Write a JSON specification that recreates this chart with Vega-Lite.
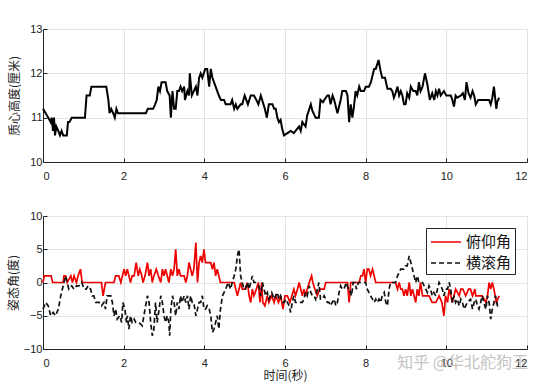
{
  "$schema": "https://vega.github.io/schema/vega-lite/v6.json",
  "padding": {"left": 6, "top": 22, "right": 10, "bottom": 5},
  "background": "white",
  "spacing": 27,
  "title": {"text": "知乎 @华北舵狗王", "orient": "bottom", "anchor": "end", "color": "#c4c4c4", "fontSize": 16, "font": "Noto Sans CJK SC", "fontWeight": "normal", "offset": -27},
  "resolve": {"legend": {"color": "independent", "strokeDash": "independent"}},
  "config": {
    "view": {"stroke": "#d4d4d4", "strokeWidth": 1},
    "axis": {
      "grid": true, "gridColor": "#e3e3e3", "gridWidth": 1,
      "domainColor": "#222222", "domainWidth": 1,
      "tickColor": "#222222", "tickSize": -4,
      "labelFont": "Liberation Sans", "labelFontSize": 11, "labelColor": "#222222", "labelPadding": 5,
      "titleFont": "Noto Sans CJK SC", "titleFontSize": 12, "titleFontWeight": "normal", "titleColor": "#222222"
    },
    "axisX": {"labelPadding": 12},
    "legend": {
      "orient": "top-right", "offset": 12, "fillColor": "white", "strokeColor": "#222222",
      "padding": 3, "labelFont": "Noto Sans CJK SC", "labelFontSize": 15, "labelColor": "#111111",
      "symbolType": "M-1.5,0H1.5", "symbolSize": 400, "symbolStrokeWidth": 1.6, "rowPadding": 2,
      "symbolOffset": 6, "labelOffset": 9
    }
  },
  "datasets": {
    "height": [
      {"time":0,"value":11.2},{"time":0.066,"value":11.1},{"time":0.132,"value":11.0},{"time":0.19,"value":10.9},{"time":0.215,"value":11.0},{"time":0.248,"value":10.7},{"time":0.273,"value":11.0},{"time":0.298,"value":10.6},{"time":0.33,"value":10.8},{"time":0.38,"value":10.7},{"time":0.42,"value":10.6},{"time":0.46,"value":10.7},{"time":0.5,"value":10.6},{"time":0.59,"value":10.6},{"time":0.62,"value":10.9},{"time":0.66,"value":10.9},{"time":0.71,"value":11.0},{"time":1.04,"value":11.0},{"time":1.08,"value":11.5},{"time":1.16,"value":11.5},{"time":1.2,"value":11.7},{"time":1.57,"value":11.7},{"time":1.62,"value":11.4},{"time":1.65,"value":11.1},{"time":1.69,"value":11.2},{"time":1.74,"value":11.1},{"time":1.78,"value":11.0},{"time":1.82,"value":11.2},{"time":1.86,"value":11.1},{"time":2.55,"value":11.1},{"time":2.6,"value":11.2},{"time":2.73,"value":11.2},{"time":2.78,"value":11.3},{"time":2.82,"value":11.4},{"time":2.86,"value":11.7},{"time":2.9,"value":11.6},{"time":2.94,"value":11.8},{"time":3.04,"value":11.8},{"time":3.08,"value":11.6},{"time":3.14,"value":11.5},{"time":3.17,"value":11.0},{"time":3.21,"value":11.6},{"time":3.25,"value":11.2},{"time":3.29,"value":11.2},{"time":3.33,"value":11.6},{"time":3.37,"value":11.6},{"time":3.41,"value":11.7},{"time":3.45,"value":11.6},{"time":3.5,"value":11.7},{"time":3.52,"value":11.4},{"time":3.58,"value":11.6},{"time":3.62,"value":11.5},{"time":3.64,"value":12.0},{"time":3.69,"value":11.5},{"time":3.74,"value":11.6},{"time":3.79,"value":11.7},{"time":3.83,"value":11.5},{"time":3.87,"value":11.9},{"time":3.91,"value":12.0},{"time":3.95,"value":11.9},{"time":4.02,"value":12.1},{"time":4.07,"value":12.1},{"time":4.12,"value":11.7},{"time":4.16,"value":12.1},{"time":4.2,"value":11.9},{"time":4.28,"value":11.7},{"time":4.36,"value":11.5},{"time":4.41,"value":11.4},{"time":4.49,"value":11.4},{"time":4.53,"value":11.3},{"time":4.65,"value":11.3},{"time":4.69,"value":11.4},{"time":4.74,"value":11.2},{"time":4.78,"value":11.3},{"time":4.82,"value":11.2},{"time":4.9,"value":11.3},{"time":4.94,"value":11.3},{"time":5.0,"value":11.5},{"time":5.04,"value":11.4},{"time":5.08,"value":11.3},{"time":5.15,"value":11.5},{"time":5.23,"value":11.5},{"time":5.29,"value":11.4},{"time":5.34,"value":11.3},{"time":5.4,"value":11.5},{"time":5.45,"value":11.35},{"time":5.5,"value":11.2},{"time":5.55,"value":11.0},{"time":5.6,"value":11.3},{"time":5.69,"value":11.3},{"time":5.73,"value":11.2},{"time":5.77,"value":11.2},{"time":5.81,"value":11.0},{"time":5.85,"value":10.9},{"time":5.89,"value":10.95},{"time":5.93,"value":10.75},{"time":5.975,"value":10.6},{"time":6.06,"value":10.65},{"time":6.14,"value":10.7},{"time":6.22,"value":10.65},{"time":6.26,"value":10.7},{"time":6.35,"value":10.8},{"time":6.39,"value":10.7},{"time":6.43,"value":10.9},{"time":6.51,"value":10.8},{"time":6.55,"value":11.05},{"time":6.64,"value":11.3},{"time":6.68,"value":11.15},{"time":6.76,"value":11.0},{"time":6.84,"value":11.0},{"time":6.88,"value":11.4},{"time":6.94,"value":11.35},{"time":7.01,"value":11.45},{"time":7.05,"value":11.5},{"time":7.09,"value":11.5},{"time":7.13,"value":11.3},{"time":7.18,"value":11.5},{"time":7.22,"value":11.4},{"time":7.3,"value":11.1},{"time":7.38,"value":11.4},{"time":7.42,"value":11.6},{"time":7.51,"value":11.6},{"time":7.55,"value":11.5},{"time":7.59,"value":10.9},{"time":7.63,"value":11.3},{"time":7.67,"value":11.0},{"time":7.71,"value":11.25},{"time":7.75,"value":11.6},{"time":7.79,"value":11.5},{"time":7.84,"value":11.7},{"time":7.88,"value":11.6},{"time":7.96,"value":11.6},{"time":8.0,"value":11.7},{"time":8.08,"value":11.7},{"time":8.13,"value":11.8},{"time":8.21,"value":12.1},{"time":8.25,"value":12.1},{"time":8.32,"value":12.3},{"time":8.37,"value":12.05},{"time":8.41,"value":11.9},{"time":8.48,"value":11.9},{"time":8.54,"value":11.65},{"time":8.62,"value":11.65},{"time":8.66,"value":11.6},{"time":8.7,"value":11.45},{"time":8.74,"value":11.55},{"time":8.79,"value":11.7},{"time":8.83,"value":11.5},{"time":8.87,"value":11.6},{"time":8.91,"value":11.5},{"time":8.95,"value":11.3},{"time":8.99,"value":11.3},{"time":9.03,"value":11.55},{"time":9.08,"value":11.45},{"time":9.12,"value":11.7},{"time":9.18,"value":11.6},{"time":9.24,"value":11.6},{"time":9.28,"value":11.5},{"time":9.32,"value":11.8},{"time":9.36,"value":11.6},{"time":9.41,"value":11.7},{"time":9.47,"value":12.0},{"time":9.53,"value":11.75},{"time":9.59,"value":11.4},{"time":9.65,"value":11.55},{"time":9.7,"value":11.4},{"time":9.74,"value":11.6},{"time":9.78,"value":11.5},{"time":9.82,"value":11.65},{"time":9.86,"value":11.5},{"time":9.94,"value":11.6},{"time":10.0,"value":11.5},{"time":10.11,"value":11.5},{"time":10.15,"value":11.4},{"time":10.19,"value":11.25},{"time":10.23,"value":11.5},{"time":10.27,"value":11.45},{"time":10.36,"value":11.5},{"time":10.41,"value":11.55},{"time":10.46,"value":11.4},{"time":10.5,"value":11.8},{"time":10.55,"value":11.55},{"time":10.6,"value":11.45},{"time":10.65,"value":11.6},{"time":10.69,"value":11.5},{"time":10.73,"value":11.3},{"time":10.79,"value":11.4},{"time":11.06,"value":11.4},{"time":11.1,"value":11.3},{"time":11.14,"value":11.45},{"time":11.18,"value":11.7},{"time":11.24,"value":11.2},{"time":11.26,"value":11.35},{"time":11.31,"value":11.45}
    ],
    "attitude": [
      {"time":0,"value":0,"series":"俯仰角"},{"time":0.03,"value":1,"series":"俯仰角"},{"time":0.2,"value":1,"series":"俯仰角"},{"time":0.24,"value":0,"series":"俯仰角"},{"time":0.5,"value":0,"series":"俯仰角"},{"time":0.52,"value":1,"series":"俯仰角"},{"time":0.56,"value":1,"series":"俯仰角"},{"time":0.6,"value":0,"series":"俯仰角"},{"time":0.69,"value":1,"series":"俯仰角"},{"time":0.73,"value":0,"series":"俯仰角"},{"time":0.77,"value":1,"series":"俯仰角"},{"time":0.83,"value":0,"series":"俯仰角"},{"time":0.87,"value":1,"series":"俯仰角"},{"time":0.93,"value":2,"series":"俯仰角"},{"time":0.97,"value":0,"series":"俯仰角"},{"time":1.45,"value":0,"series":"俯仰角"},{"time":1.49,"value":-2,"series":"俯仰角"},{"time":1.55,"value":0,"series":"俯仰角"},{"time":1.76,"value":0,"series":"俯仰角"},{"time":1.8,"value":1,"series":"俯仰角"},{"time":1.88,"value":1,"series":"俯仰角"},{"time":1.93,"value":0,"series":"俯仰角"},{"time":1.97,"value":1,"series":"俯仰角"},{"time":2.01,"value":2,"series":"俯仰角"},{"time":2.05,"value":1,"series":"俯仰角"},{"time":2.09,"value":2,"series":"俯仰角"},{"time":2.13,"value":1,"series":"俯仰角"},{"time":2.17,"value":0,"series":"俯仰角"},{"time":2.21,"value":1,"series":"俯仰角"},{"time":2.26,"value":1,"series":"俯仰角"},{"time":2.31,"value":3,"series":"俯仰角"},{"time":2.36,"value":1,"series":"俯仰角"},{"time":2.4,"value":2,"series":"俯仰角"},{"time":2.45,"value":1,"series":"俯仰角"},{"time":2.48,"value":0,"series":"俯仰角"},{"time":2.53,"value":1,"series":"俯仰角"},{"time":2.59,"value":3,"series":"俯仰角"},{"time":2.63,"value":1,"series":"俯仰角"},{"time":2.67,"value":2,"series":"俯仰角"},{"time":2.71,"value":0,"series":"俯仰角"},{"time":2.75,"value":1,"series":"俯仰角"},{"time":2.81,"value":2,"series":"俯仰角"},{"time":2.86,"value":1,"series":"俯仰角"},{"time":2.92,"value":0,"series":"俯仰角"},{"time":2.96,"value":2,"series":"俯仰角"},{"time":3.0,"value":1,"series":"俯仰角"},{"time":3.04,"value":2,"series":"俯仰角"},{"time":3.08,"value":1,"series":"俯仰角"},{"time":3.12,"value":0,"series":"俯仰角"},{"time":3.17,"value":2,"series":"俯仰角"},{"time":3.21,"value":1,"series":"俯仰角"},{"time":3.25,"value":2,"series":"俯仰角"},{"time":3.29,"value":5,"series":"俯仰角"},{"time":3.33,"value":1,"series":"俯仰角"},{"time":3.37,"value":2,"series":"俯仰角"},{"time":3.41,"value":1,"series":"俯仰角"},{"time":3.5,"value":1,"series":"俯仰角"},{"time":3.54,"value":0,"series":"俯仰角"},{"time":3.58,"value":1,"series":"俯仰角"},{"time":3.62,"value":3,"series":"俯仰角"},{"time":3.66,"value":2,"series":"俯仰角"},{"time":3.7,"value":1,"series":"俯仰角"},{"time":3.74,"value":2,"series":"俯仰角"},{"time":3.79,"value":6,"series":"俯仰角"},{"time":3.83,"value":0,"series":"俯仰角"},{"time":3.87,"value":3,"series":"俯仰角"},{"time":3.91,"value":4,"series":"俯仰角"},{"time":3.95,"value":3,"series":"俯仰角"},{"time":3.99,"value":5,"series":"俯仰角"},{"time":4.03,"value":3,"series":"俯仰角"},{"time":4.12,"value":3,"series":"俯仰角"},{"time":4.16,"value":3,"series":"俯仰角"},{"time":4.2,"value":2,"series":"俯仰角"},{"time":4.24,"value":3,"series":"俯仰角"},{"time":4.28,"value":1,"series":"俯仰角"},{"time":4.32,"value":2,"series":"俯仰角"},{"time":4.36,"value":1,"series":"俯仰角"},{"time":4.4,"value":0,"series":"俯仰角"},{"time":4.74,"value":0,"series":"俯仰角"},{"time":4.82,"value":-2,"series":"俯仰角"},{"time":4.86,"value":-1,"series":"俯仰角"},{"time":4.9,"value":0,"series":"俯仰角"},{"time":4.94,"value":-1,"series":"俯仰角"},{"time":5.01,"value":-1,"series":"俯仰角"},{"time":5.07,"value":0,"series":"俯仰角"},{"time":5.11,"value":-2,"series":"俯仰角"},{"time":5.15,"value":-3,"series":"俯仰角"},{"time":5.19,"value":-1,"series":"俯仰角"},{"time":5.23,"value":-2,"series":"俯仰角"},{"time":5.29,"value":-1,"series":"俯仰角"},{"time":5.34,"value":0,"series":"俯仰角"},{"time":5.38,"value":-3,"series":"俯仰角"},{"time":5.42,"value":0,"series":"俯仰角"},{"time":5.45,"value":-3,"series":"俯仰角"},{"time":5.5,"value":-3.5,"series":"俯仰角"},{"time":5.56,"value":-2,"series":"俯仰角"},{"time":5.6,"value":-3,"series":"俯仰角"},{"time":5.67,"value":-2,"series":"俯仰角"},{"time":5.73,"value":-3,"series":"俯仰角"},{"time":5.77,"value":-2,"series":"俯仰角"},{"time":5.84,"value":-3,"series":"俯仰角"},{"time":5.89,"value":-2,"series":"俯仰角"},{"time":5.95,"value":-4,"series":"俯仰角"},{"time":6.0,"value":-2,"series":"俯仰角"},{"time":6.06,"value":-2,"series":"俯仰角"},{"time":6.12,"value":-3,"series":"俯仰角"},{"time":6.17,"value":-2,"series":"俯仰角"},{"time":6.22,"value":-1,"series":"俯仰角"},{"time":6.26,"value":-2,"series":"俯仰角"},{"time":6.31,"value":-1,"series":"俯仰角"},{"time":6.35,"value":0,"series":"俯仰角"},{"time":6.39,"value":-1,"series":"俯仰角"},{"time":6.43,"value":-2,"series":"俯仰角"},{"time":6.47,"value":-1,"series":"俯仰角"},{"time":6.51,"value":-2,"series":"俯仰角"},{"time":6.55,"value":-1,"series":"俯仰角"},{"time":6.6,"value":0,"series":"俯仰角"},{"time":6.66,"value":1,"series":"俯仰角"},{"time":6.69,"value":0,"series":"俯仰角"},{"time":6.74,"value":-1,"series":"俯仰角"},{"time":6.8,"value":-2,"series":"俯仰角"},{"time":6.86,"value":-1,"series":"俯仰角"},{"time":6.97,"value":-1,"series":"俯仰角"},{"time":7.01,"value":0,"series":"俯仰角"},{"time":7.55,"value":0,"series":"俯仰角"},{"time":7.59,"value":-3,"series":"俯仰角"},{"time":7.63,"value":0,"series":"俯仰角"},{"time":7.84,"value":0,"series":"俯仰角"},{"time":7.88,"value":1,"series":"俯仰角"},{"time":7.92,"value":1,"series":"俯仰角"},{"time":7.96,"value":2,"series":"俯仰角"},{"time":8.0,"value":0,"series":"俯仰角"},{"time":8.04,"value":2,"series":"俯仰角"},{"time":8.08,"value":2,"series":"俯仰角"},{"time":8.12,"value":1,"series":"俯仰角"},{"time":8.17,"value":2,"series":"俯仰角"},{"time":8.21,"value":1,"series":"俯仰角"},{"time":8.25,"value":0,"series":"俯仰角"},{"time":8.74,"value":0,"series":"俯仰角"},{"time":8.79,"value":-1,"series":"俯仰角"},{"time":8.83,"value":0,"series":"俯仰角"},{"time":8.87,"value":-1,"series":"俯仰角"},{"time":8.91,"value":-1,"series":"俯仰角"},{"time":8.95,"value":-2,"series":"俯仰角"},{"time":8.99,"value":-1,"series":"俯仰角"},{"time":9.03,"value":-2,"series":"俯仰角"},{"time":9.08,"value":0,"series":"俯仰角"},{"time":9.12,"value":-2,"series":"俯仰角"},{"time":9.16,"value":-1,"series":"俯仰角"},{"time":9.2,"value":-2,"series":"俯仰角"},{"time":9.24,"value":-3,"series":"俯仰角"},{"time":9.28,"value":-1,"series":"俯仰角"},{"time":9.32,"value":-2,"series":"俯仰角"},{"time":9.36,"value":0,"series":"俯仰角"},{"time":9.41,"value":-2,"series":"俯仰角"},{"time":9.57,"value":-2,"series":"俯仰角"},{"time":9.65,"value":-3,"series":"俯仰角"},{"time":9.74,"value":-3,"series":"俯仰角"},{"time":9.82,"value":-2,"series":"俯仰角"},{"time":9.89,"value":-3,"series":"俯仰角"},{"time":9.94,"value":-5,"series":"俯仰角"},{"time":9.98,"value":-2,"series":"俯仰角"},{"time":10.03,"value":-3,"series":"俯仰角"},{"time":10.07,"value":-1,"series":"俯仰角"},{"time":10.11,"value":-2,"series":"俯仰角"},{"time":10.15,"value":-3,"series":"俯仰角"},{"time":10.19,"value":-2,"series":"俯仰角"},{"time":10.23,"value":-1,"series":"俯仰角"},{"time":10.32,"value":-2,"series":"俯仰角"},{"time":10.36,"value":-1,"series":"俯仰角"},{"time":10.41,"value":-1,"series":"俯仰角"},{"time":10.48,"value":-2,"series":"俯仰角"},{"time":10.55,"value":-1,"series":"俯仰角"},{"time":10.6,"value":-1,"series":"俯仰角"},{"time":10.65,"value":-2,"series":"俯仰角"},{"time":10.71,"value":-1,"series":"俯仰角"},{"time":10.73,"value":-2,"series":"俯仰角"},{"time":10.89,"value":-2,"series":"俯仰角"},{"time":10.98,"value":-3,"series":"俯仰角"},{"time":11.02,"value":-2,"series":"俯仰角"},{"time":11.06,"value":0,"series":"俯仰角"},{"time":11.1,"value":-1,"series":"俯仰角"},{"time":11.14,"value":0,"series":"俯仰角"},{"time":11.18,"value":-1,"series":"俯仰角"},{"time":11.24,"value":-3,"series":"俯仰角"},{"time":11.31,"value":-2,"series":"俯仰角"},
      {"time":0,"value":-4,"series":"横滚角"},{"time":0.066,"value":-3,"series":"横滚角"},{"time":0.13,"value":-3.5,"series":"横滚角"},{"time":0.19,"value":-5,"series":"横滚角"},{"time":0.25,"value":-4.5,"series":"横滚角"},{"time":0.31,"value":-5,"series":"横滚角"},{"time":0.38,"value":-4,"series":"横滚角"},{"time":0.44,"value":-2,"series":"横滚角"},{"time":0.52,"value":0,"series":"横滚角"},{"time":0.56,"value":1,"series":"横滚角"},{"time":0.6,"value":0,"series":"横滚角"},{"time":0.64,"value":-1,"series":"横滚角"},{"time":0.71,"value":-0.5,"series":"横滚角"},{"time":0.77,"value":-1,"series":"横滚角"},{"time":0.83,"value":-0.5,"series":"横滚角"},{"time":0.89,"value":-0.5,"series":"横滚角"},{"time":0.96,"value":0,"series":"横滚角"},{"time":1.02,"value":-1,"series":"横滚角"},{"time":1.07,"value":-1,"series":"横滚角"},{"time":1.12,"value":-0.5,"series":"横滚角"},{"time":1.18,"value":-1,"series":"横滚角"},{"time":1.22,"value":-2,"series":"横滚角"},{"time":1.26,"value":-2,"series":"横滚角"},{"time":1.31,"value":-3,"series":"横滚角"},{"time":1.39,"value":-3,"series":"横滚角"},{"time":1.45,"value":-3.5,"series":"横滚角"},{"time":1.51,"value":-3,"series":"横滚角"},{"time":1.55,"value":-4,"series":"横滚角"},{"time":1.59,"value":-2,"series":"横滚角"},{"time":1.68,"value":-2,"series":"横滚角"},{"time":1.72,"value":-3,"series":"横滚角"},{"time":1.76,"value":-5,"series":"横滚角"},{"time":1.8,"value":-4,"series":"横滚角"},{"time":1.84,"value":-5.5,"series":"横滚角"},{"time":1.9,"value":-5,"series":"横滚角"},{"time":1.95,"value":-6,"series":"横滚角"},{"time":1.98,"value":-3,"series":"横滚角"},{"time":2.03,"value":-4,"series":"横滚角"},{"time":2.07,"value":-6,"series":"横滚角"},{"time":2.09,"value":-5,"series":"横滚角"},{"time":2.13,"value":-7,"series":"横滚角"},{"time":2.17,"value":-5,"series":"横滚角"},{"time":2.21,"value":-6,"series":"横滚角"},{"time":2.26,"value":-5.5,"series":"横滚角"},{"time":2.3,"value":-6,"series":"横滚角"},{"time":2.38,"value":-6,"series":"横滚角"},{"time":2.46,"value":-6.5,"series":"横滚角"},{"time":2.53,"value":-4,"series":"横滚角"},{"time":2.59,"value":-2,"series":"横滚角"},{"time":2.63,"value":-3,"series":"横滚角"},{"time":2.67,"value":-6,"series":"横滚角"},{"time":2.71,"value":-8,"series":"横滚角"},{"time":2.75,"value":-7,"series":"横滚角"},{"time":2.79,"value":-3,"series":"横滚角"},{"time":2.83,"value":-6,"series":"横滚角"},{"time":2.88,"value":-4,"series":"横滚角"},{"time":2.92,"value":-2,"series":"横滚角"},{"time":2.96,"value":-3,"series":"横滚角"},{"time":3.0,"value":-5,"series":"横滚角"},{"time":3.04,"value":-6,"series":"横滚角"},{"time":3.08,"value":-5,"series":"横滚角"},{"time":3.12,"value":-6,"series":"横滚角"},{"time":3.14,"value":-8,"series":"横滚角"},{"time":3.17,"value":-4,"series":"横滚角"},{"time":3.21,"value":-2,"series":"横滚角"},{"time":3.25,"value":-3,"series":"横滚角"},{"time":3.29,"value":-5,"series":"横滚角"},{"time":3.33,"value":-3,"series":"横滚角"},{"time":3.37,"value":-4,"series":"横滚角"},{"time":3.41,"value":-2,"series":"横滚角"},{"time":3.44,"value":-3,"series":"横滚角"},{"time":3.5,"value":-2,"series":"横滚角"},{"time":3.54,"value":-3,"series":"横滚角"},{"time":3.58,"value":-2,"series":"横滚角"},{"time":3.62,"value":-4,"series":"横滚角"},{"time":3.66,"value":-2,"series":"横滚角"},{"time":3.7,"value":-3,"series":"横滚角"},{"time":3.74,"value":-3,"series":"横滚角"},{"time":3.79,"value":-5,"series":"横滚角"},{"time":3.83,"value":-4,"series":"横滚角"},{"time":3.87,"value":-3,"series":"横滚角"},{"time":3.91,"value":-3,"series":"横滚角"},{"time":3.95,"value":-2,"series":"横滚角"},{"time":3.99,"value":-4,"series":"横滚角"},{"time":4.03,"value":-4,"series":"横滚角"},{"time":4.07,"value":-3.5,"series":"横滚角"},{"time":4.12,"value":-4,"series":"横滚角"},{"time":4.16,"value":-5,"series":"横滚角"},{"time":4.2,"value":-7.5,"series":"横滚角"},{"time":4.24,"value":-7,"series":"横滚角"},{"time":4.28,"value":-6,"series":"横滚角"},{"time":4.32,"value":-5,"series":"横滚角"},{"time":4.36,"value":-7,"series":"横滚角"},{"time":4.4,"value":-4,"series":"横滚角"},{"time":4.45,"value":-2,"series":"横滚角"},{"time":4.53,"value":-1,"series":"横滚角"},{"time":4.59,"value":0,"series":"横滚角"},{"time":4.65,"value":-1,"series":"横滚角"},{"time":4.69,"value":0,"series":"横滚角"},{"time":4.74,"value":1,"series":"横滚角"},{"time":4.78,"value":2,"series":"横滚角"},{"time":4.82,"value":4,"series":"横滚角"},{"time":4.86,"value":5,"series":"横滚角"},{"time":4.9,"value":1,"series":"横滚角"},{"time":4.94,"value":0,"series":"横滚角"},{"time":4.98,"value":-1,"series":"横滚角"},{"time":5.02,"value":-1,"series":"横滚角"},{"time":5.07,"value":0,"series":"横滚角"},{"time":5.11,"value":-1,"series":"横滚角"},{"time":5.15,"value":0,"series":"横滚角"},{"time":5.19,"value":1,"series":"横滚角"},{"time":5.23,"value":0,"series":"横滚角"},{"time":5.27,"value":0,"series":"横滚角"},{"time":5.35,"value":-0.5,"series":"横滚角"},{"time":5.4,"value":-2,"series":"横滚角"},{"time":5.44,"value":0,"series":"横滚角"},{"time":5.48,"value":-1,"series":"横滚角"},{"time":5.52,"value":-2,"series":"横滚角"},{"time":5.56,"value":-1.5,"series":"横滚角"},{"time":5.6,"value":-2.5,"series":"横滚角"},{"time":5.67,"value":-1.5,"series":"横滚角"},{"time":5.73,"value":-2.5,"series":"横滚角"},{"time":5.77,"value":-2,"series":"横滚角"},{"time":5.81,"value":-1.5,"series":"横滚角"},{"time":5.85,"value":-2.5,"series":"横滚角"},{"time":5.89,"value":-2,"series":"横滚角"},{"time":5.93,"value":-3,"series":"横滚角"},{"time":5.98,"value":-3,"series":"横滚角"},{"time":6.02,"value":-2.5,"series":"横滚角"},{"time":6.06,"value":-3,"series":"横滚角"},{"time":6.1,"value":-3.5,"series":"横滚角"},{"time":6.14,"value":-4.5,"series":"横滚角"},{"time":6.18,"value":-3,"series":"横滚角"},{"time":6.22,"value":-2,"series":"横滚角"},{"time":6.26,"value":-3,"series":"横滚角"},{"time":6.43,"value":-3,"series":"横滚角"},{"time":6.47,"value":-2.5,"series":"横滚角"},{"time":6.51,"value":-1.5,"series":"横滚角"},{"time":6.55,"value":-2,"series":"横滚角"},{"time":6.6,"value":-0.5,"series":"横滚角"},{"time":6.64,"value":-1.5,"series":"横滚角"},{"time":6.68,"value":-2,"series":"横滚角"},{"time":6.72,"value":-2,"series":"横滚角"},{"time":6.76,"value":-2.5,"series":"横滚角"},{"time":6.8,"value":-1,"series":"横滚角"},{"time":6.84,"value":0,"series":"横滚角"},{"time":6.88,"value":-2.5,"series":"横滚角"},{"time":6.93,"value":-2.5,"series":"横滚角"},{"time":6.97,"value":-2,"series":"横滚角"},{"time":7.01,"value":-2.5,"series":"横滚角"},{"time":7.05,"value":-3,"series":"横滚角"},{"time":7.09,"value":-3,"series":"横滚角"},{"time":7.13,"value":-3.5,"series":"横滚角"},{"time":7.17,"value":-3,"series":"横滚角"},{"time":7.22,"value":-2.5,"series":"横滚角"},{"time":7.26,"value":-3.5,"series":"横滚角"},{"time":7.3,"value":-3,"series":"横滚角"},{"time":7.34,"value":-1.5,"series":"横滚角"},{"time":7.38,"value":-0.5,"series":"横滚角"},{"time":7.42,"value":-1,"series":"横滚角"},{"time":7.46,"value":-1,"series":"横滚角"},{"time":7.52,"value":0,"series":"横滚角"},{"time":7.57,"value":-1,"series":"横滚角"},{"time":7.6,"value":-1,"series":"横滚角"},{"time":7.65,"value":-2,"series":"横滚角"},{"time":7.69,"value":0,"series":"横滚角"},{"time":7.74,"value":0,"series":"横滚角"},{"time":7.77,"value":-1,"series":"横滚角"},{"time":7.82,"value":0,"series":"横滚角"},{"time":8.0,"value":0,"series":"横滚角"},{"time":8.04,"value":-1,"series":"横滚角"},{"time":8.08,"value":-1.5,"series":"横滚角"},{"time":8.12,"value":-2,"series":"横滚角"},{"time":8.17,"value":-2.5,"series":"横滚角"},{"time":8.21,"value":-3,"series":"横滚角"},{"time":8.25,"value":-2.5,"series":"横滚角"},{"time":8.29,"value":-3,"series":"横滚角"},{"time":8.33,"value":-2.5,"series":"横滚角"},{"time":8.37,"value":-3,"series":"横滚角"},{"time":8.41,"value":-2,"series":"横滚角"},{"time":8.46,"value":-1.5,"series":"横滚角"},{"time":8.5,"value":-3,"series":"横滚角"},{"time":8.54,"value":-3.5,"series":"横滚角"},{"time":8.58,"value":-1,"series":"横滚角"},{"time":8.62,"value":0,"series":"横滚角"},{"time":8.74,"value":0,"series":"横滚角"},{"time":8.79,"value":1,"series":"横滚角"},{"time":8.83,"value":1.5,"series":"横滚角"},{"time":8.87,"value":2,"series":"横滚角"},{"time":8.95,"value":2,"series":"横滚角"},{"time":8.99,"value":2.5,"series":"横滚角"},{"time":9.03,"value":2.5,"series":"横滚角"},{"time":9.08,"value":4,"series":"横滚角"},{"time":9.12,"value":3,"series":"横滚角"},{"time":9.16,"value":2,"series":"横滚角"},{"time":9.2,"value":1,"series":"横滚角"},{"time":9.24,"value":0,"series":"横滚角"},{"time":9.28,"value":1,"series":"横滚角"},{"time":9.32,"value":0,"series":"横滚角"},{"time":9.41,"value":0,"series":"横滚角"},{"time":9.49,"value":-1,"series":"横滚角"},{"time":9.53,"value":-1.5,"series":"横滚角"},{"time":9.57,"value":-0.5,"series":"横滚角"},{"time":9.61,"value":-1,"series":"横滚角"},{"time":9.65,"value":-2,"series":"横滚角"},{"time":9.69,"value":-1.5,"series":"横滚角"},{"time":9.74,"value":-2,"series":"横滚角"},{"time":9.78,"value":-1,"series":"横滚角"},{"time":9.82,"value":0,"series":"横滚角"},{"time":9.86,"value":-0.5,"series":"横滚角"},{"time":9.9,"value":-1,"series":"横滚角"},{"time":9.94,"value":-2,"series":"横滚角"},{"time":9.98,"value":-1,"series":"横滚角"},{"time":10.03,"value":-1,"series":"横滚角"},{"time":10.07,"value":0,"series":"横滚角"},{"time":10.11,"value":-1,"series":"横滚角"},{"time":10.15,"value":-3,"series":"横滚角"},{"time":10.19,"value":-2,"series":"横滚角"},{"time":10.23,"value":-3,"series":"横滚角"},{"time":10.27,"value":-2.5,"series":"横滚角"},{"time":10.32,"value":-3.5,"series":"横滚角"},{"time":10.36,"value":-2.5,"series":"横滚角"},{"time":10.4,"value":-3,"series":"横滚角"},{"time":10.44,"value":-4,"series":"横滚角"},{"time":10.48,"value":-3.5,"series":"横滚角"},{"time":10.52,"value":-3,"series":"横滚角"},{"time":10.6,"value":-2.5,"series":"横滚角"},{"time":10.65,"value":-4,"series":"横滚角"},{"time":10.69,"value":-3,"series":"横滚角"},{"time":10.73,"value":-2.5,"series":"横滚角"},{"time":10.77,"value":-3.5,"series":"横滚角"},{"time":10.81,"value":-4,"series":"横滚角"},{"time":10.85,"value":-3,"series":"横滚角"},{"time":10.89,"value":-2,"series":"横滚角"},{"time":10.93,"value":-3,"series":"横滚角"},{"time":10.98,"value":-4,"series":"横滚角"},{"time":11.02,"value":-2,"series":"横滚角"},{"time":11.06,"value":-3,"series":"横滚角"},{"time":11.1,"value":-5.5,"series":"横滚角"},{"time":11.14,"value":-4,"series":"横滚角"},{"time":11.18,"value":-3,"series":"横滚角"},{"time":11.22,"value":-2,"series":"横滚角"},{"time":11.27,"value":-3.5,"series":"横滚角"},{"time":11.31,"value":-3.5,"series":"横滚角"}
    ]
  },
  "vconcat": [
    {
      "width": 484, "height": 133,
      "data": {"name": "height"},
      "mark": {"type": "line", "color": "#000000", "strokeWidth": 2},
      "encoding": {
        "x": {"field": "time", "type": "quantitative", "scale": {"domain": [0, 12], "nice": false}, "axis": {"values": [0, 2, 4, 6, 8, 10, 12], "title": null}},
        "y": {"field": "value", "type": "quantitative", "scale": {"domain": [10, 13], "nice": false}, "axis": {"values": [10, 11, 12, 13], "title": "质心高度(厘米)", "titlePadding": 8}}
      }
    },
    {
      "width": 484, "height": 133,
      "data": {"name": "attitude"},
      "mark": {"type": "line", "strokeWidth": 1.7},
      "encoding": {
        "x": {"field": "time", "type": "quantitative", "scale": {"domain": [0, 12], "nice": false}, "axis": {"values": [0, 2, 4, 6, 8, 10, 12], "title": "时间(秒)", "titlePadding": 2}},
        "y": {"field": "value", "type": "quantitative", "scale": {"domain": [-10, 10], "nice": false}, "axis": {"values": [-10, -5, 0, 5, 10], "title": "姿态角(度)", "titlePadding": 3}},
        "color": {"field": "series", "type": "nominal", "scale": {"domain": ["俯仰角", "横滚角"], "range": ["#ee0000", "#111111"]}, "legend": {"title": null}},
        "strokeDash": {"field": "series", "type": "nominal", "scale": {"domain": ["俯仰角", "横滚角"], "range": [[1, 0], [5, 3]]}, "legend": {"title": null}}
      }
    }
  ]
}
